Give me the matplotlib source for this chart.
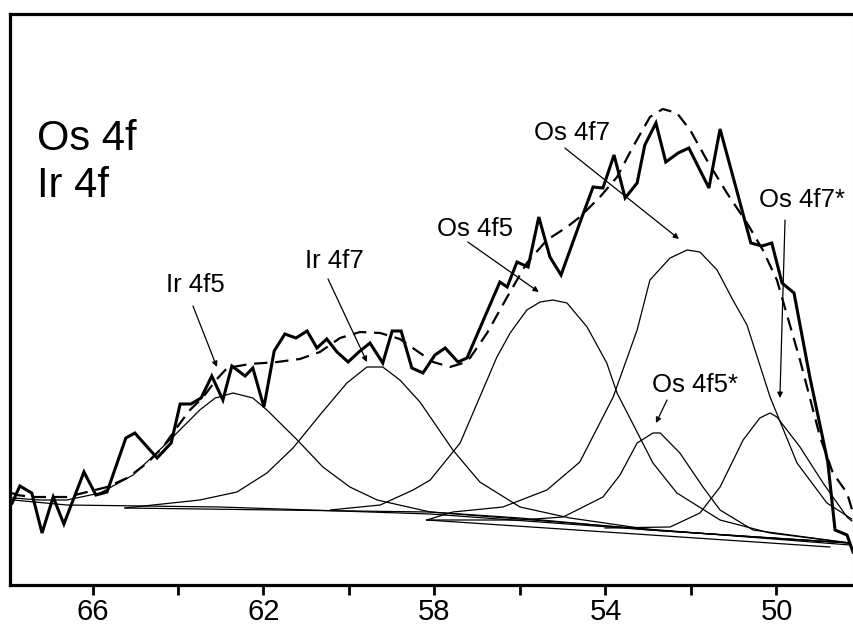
import matplotlib.pyplot as plt
from matplotlib.ticker import MultipleLocator

plt.rcParams['font.family'] = ['Liberation Sans', 'DejaVu Sans']

# Binding energy (eV) and intensity (a.u.)
exp_be = [67.88, 67.70, 67.42, 67.18, 66.92, 66.67, 66.20, 65.92, 65.66, 65.22,
          65.01, 64.49, 64.16, 63.95, 63.70, 63.46, 63.21, 62.95, 62.74, 62.43,
          62.25, 61.99, 61.75, 61.50, 61.24, 60.98, 60.75, 60.52, 60.28, 60.02,
          59.77, 59.51, 59.21, 58.99, 58.78, 58.53, 58.27, 57.99, 57.75, 57.45,
          57.24, 56.47, 56.30, 56.07, 55.81, 55.56, 55.30, 55.04, 54.55, 54.29,
          54.06, 53.80, 53.54, 53.26, 53.08, 52.82, 52.59, 52.30, 52.05, 51.58,
          51.32, 50.92, 50.60, 50.34, 50.11, 49.87, 49.59, 49.22, 48.80, 48.63,
          48.35, 48.21]
exp_int = [82, 99, 92, 52, 88, 61, 113, 90, 93, 147,
           152, 127, 142, 181, 181, 187, 209, 185, 219, 209,
           217, 178, 234, 251, 247, 254, 237, 246, 233, 223,
           233, 242, 222, 254, 254, 217, 212, 230, 237, 223,
           227, 303, 298, 323, 318, 368, 328, 310, 368, 398,
           397, 430, 387, 402, 440, 462, 423, 432, 437, 397,
           456, 393, 342, 339, 342, 302, 292, 208, 123, 55,
           50, 33]

# fitted envelope (dashed)
env_be = [67.88, 67.77, 67.39, 66.99, 66.60, 66.22, 65.66, 65.19, 64.72, 64.35,
          64.02, 63.72, 63.41, 63.11, 62.85, 62.32, 61.68, 61.15, 60.68, 60.21,
          59.74, 59.27, 58.81, 58.34, 58.03, 57.64, 57.33, 57.17, 56.77, 56.30,
          55.84, 55.37, 54.90, 54.60, 54.13, 53.73, 53.36, 52.96, 52.66, 52.33,
          52.02, 51.63, 51.16, 50.69, 50.32, 49.99, 49.45, 48.98, 48.68, 48.35,
          48.23]
env_int = [92, 90, 88, 88, 88, 92, 98, 107, 122, 138,
           158, 175, 188, 205, 217, 221, 223, 226, 233, 247,
           253, 252, 246, 232, 223, 218, 222, 227, 252, 288,
           322, 345, 358, 368, 388, 408, 438, 468, 476, 472,
           455, 425, 392, 362, 335, 305, 225, 148, 112, 92,
           75]

# fitted components
ir4f5_be = [67.86, 67.23, 66.60, 65.82, 65.05, 64.26, 63.49, 63.13, 62.71, 62.25,
            61.92, 61.21, 60.61, 59.98, 59.34, 58.10, 56.00, 52.96, 48.28]
ir4f5_int = [87, 85, 85, 92, 110, 142, 175, 187, 192, 187,
             175, 145, 118, 98, 85, 73, 67, 55, 42]

ir4f7_be = [65.24, 63.49, 62.62, 61.92, 61.31, 60.68, 60.05, 59.58, 59.21, 58.81,
            58.34, 57.57, 56.94, 56.00, 54.83, 52.89, 50.55, 48.28]
ir4f7_int = [77, 85, 93, 112, 137, 170, 202, 218, 218, 205,
             183, 135, 103, 78, 67, 55, 48, 42]

os4f5_be = [60.44, 59.27, 58.50, 58.10, 57.40, 56.54, 56.23, 55.84, 55.53, 55.23,
            54.90, 54.43, 53.97, 53.73, 52.89, 52.33, 51.32, 50.15, 48.28]
os4f5_int = [75, 80, 95, 105, 142, 228, 252, 275, 283, 285,
             282, 258, 222, 192, 122, 92, 65, 52, 42]

os4f7_be = [58.18, 57.57, 56.40, 55.37, 54.60, 53.82, 53.26, 52.96, 52.49, 52.09,
            51.79, 51.39, 51.02, 50.69, 50.15, 49.52, 48.82, 48.24]
os4f7_int = [65, 73, 78, 95, 123, 188, 255, 305, 327, 335,
             333, 315, 285, 260, 188, 122, 82, 66]

os4f5s_be = [58.18, 56.00, 54.99, 54.06, 53.66, 53.26, 52.89, 52.72, 52.26, 51.72,
             51.32, 50.55, 48.28]
os4f5s_int = [65, 65, 68, 88, 110, 142, 152, 152, 132, 98,
              75, 55, 42]

os4f7s_be = [54.01, 52.49, 51.79, 51.32, 50.78, 50.39, 50.15, 49.99, 49.45, 48.91,
             48.35, 48.24]
os4f7s_int = [57, 58, 72, 98, 145, 167, 172, 168, 138, 102,
              68, 64]

# backgrounds
bg1_be = [67.86, 66.60, 63.02, 58.10, 52.96, 48.28]
bg1_int = [85, 80, 78, 71, 55, 42]
bg2_be = [65.24, 58.10, 48.28]
bg2_int = [77, 73, 40]
bg3_be = [58.18, 48.75]
bg3_int = [65, 38]

# peak labels: text, text position, arrow tail, arrow tip
labels = ['Ir 4f5', 'Ir 4f7', 'Os 4f5', 'Os 4f7', 'Os 4f7*', 'Os 4f5*']
label_pos = [(63.60, 293), (60.35, 317), (57.05, 349), (54.78, 445), (49.40, 378), (51.91, 193)]
arrow_tail = [(63.65, 279), (60.49, 306), (57.22, 343), (54.95, 437), (49.80, 365), (52.56, 185)]
arrow_tip = [(63.09, 218), (59.58, 223), (55.56, 293), (52.28, 346), (49.92, 187), (52.82, 162)]

fig = plt.figure(figsize=(8.54, 6.31), dpi=100)
ax = fig.add_axes([10 / 854, 46 / 631, 843 / 854, 571 / 631])

# components and backgrounds (thin)
for be, inten in [(bg1_be, bg1_int), (bg2_be, bg2_int), (bg3_be, bg3_int),
                  (ir4f5_be, ir4f5_int), (ir4f7_be, ir4f7_int),
                  (os4f5_be, os4f5_int), (os4f7_be, os4f7_int),
                  (os4f5s_be, os4f5s_int), (os4f7s_be, os4f7s_int)]:
    ax.plot(be, inten, color='black', lw=0.9)

ax.plot(env_be, env_int, color='black', lw=1.6, dashes=(6, 3.5))
ax.plot(exp_be, exp_int, color='black', lw=2.2, solid_joinstyle='miter')

for txt, pos, tail, tip in zip(labels, label_pos, arrow_tail, arrow_tip):
    ax.text(pos[0], pos[1], txt, ha='center', va='baseline', fontsize=18.5)
    ax.annotate('', xy=tip, xytext=tail,
                arrowprops=dict(arrowstyle='-|>', lw=0.9, color='black',
                                mutation_scale=8, shrinkA=0, shrinkB=0))

ax.text(67.30, 435, 'Os 4f', ha='left', va='baseline', fontsize=30)
ax.text(67.30, 388, 'Ir 4f', ha='left', va='baseline', fontsize=30)

ax.set_xlim(67.93, 48.21)
ax.set_ylim(0, 571)
ax.xaxis.set_major_locator(MultipleLocator(4))
ax.xaxis.set_minor_locator(MultipleLocator(2))
ax.set_xticks([66, 62, 58, 54, 50])
ax.tick_params(axis='x', which='both', direction='out', length=7, width=2, pad=2,
               labelsize=21)
ax.set_yticks([])
for side in ['left', 'bottom', 'top']:
    ax.spines[side].set_linewidth(2.3)
ax.spines['right'].set_linewidth(0.8)
ax.spines['right'].set_color('#bbbbbb')

fig.savefig('out.png', dpi=100)
